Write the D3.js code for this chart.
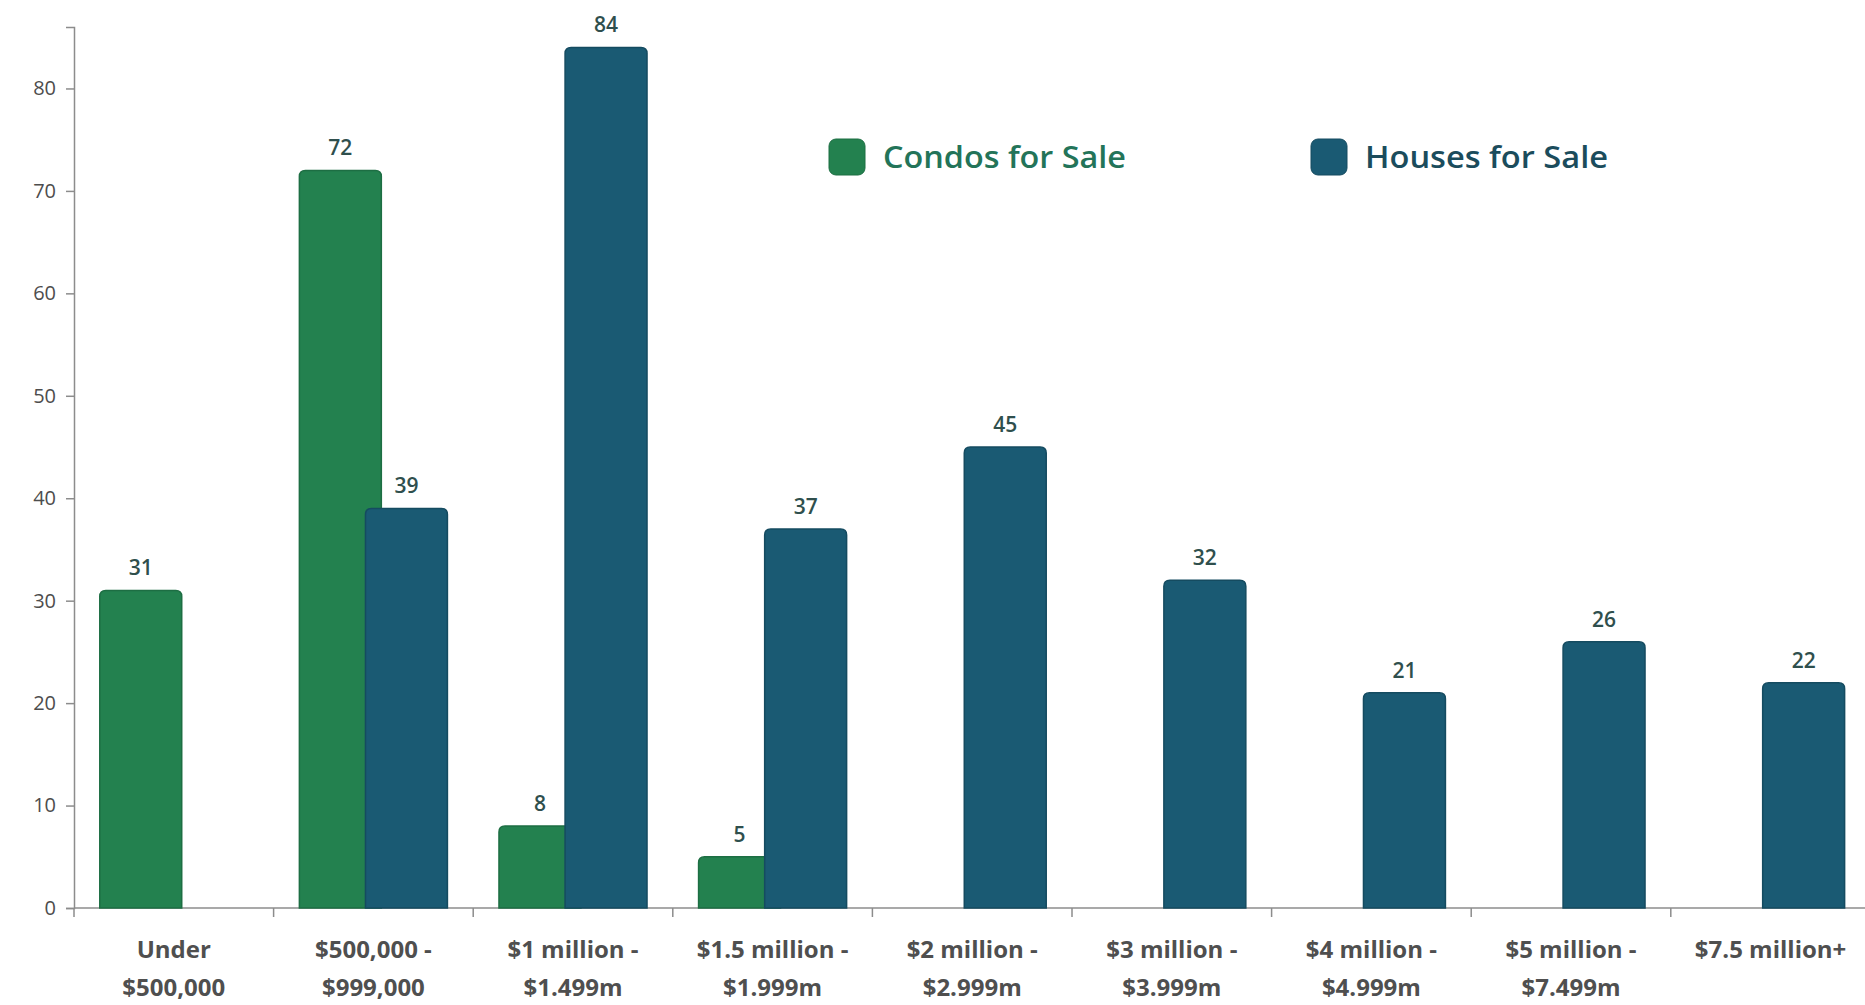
<!DOCTYPE html>
<html>
<head>
<meta charset="utf-8">
<script src="https://cdn.jsdelivr.net/npm/d3@7"></script>
<style>
  body { margin: 0; background: #fff; }
  svg { display: block; font-family: "Open Sans", "DejaVu Sans", sans-serif; }
</style>
</head>
<body>
<div id="chart"></div>
<script>
var
  width = 1865,
  height = 1005;

// data
var categories = [
  ["Under", "$500,000"],
  ["$500,000 -", "$999,000"],
  ["$1 million -", "$1.499m"],
  ["$1.5 million -", "$1.999m"],
  ["$2 million -", "$2.999m"],
  ["$3 million -", "$3.999m"],
  ["$4 million -", "$4.999m"],
  ["$5 million -", "$7.499m"],
  ["$7.5 million+"]
];
var series = ["Condos for Sale", "Houses for Sale"];
var condos = [31, 72, 8, 5, null, null, null, null, null];
var houses = [null, 39, 84, 37, 45, 32, 21, 26, 22];
var yTicks = [0, 10, 20, 30, 40, 50, 60, 70, 80];

var colors = { "Condos for Sale": "#23814f", "Houses for Sale": "#1a5a73" };
var strokes = { "Condos for Sale": "#1d6e43", "Houses for Sale": "#154b60" };
var legendText = { "Condos for Sale": "#237459", "Houses for Sale": "#1b4c5c" };

var svg = d3.select("#chart")
  .append("svg")
  .attr("width", width)
  .attr("height", height);

var margin = { left: 74, bottom: 908, top: 27 };

var x = d3.scaleBand()
  .domain(d3.range(categories.length))
  .range([margin.left, margin.left + 9 * 199.6])
  .padding(0);

var xInner = d3.scaleBand()
  .domain(series)
  .range([0, x.bandwidth()])
  .paddingInner(0)
  .paddingOuter(0.51);

var barW = xInner.bandwidth() * 1.24;

var y = d3.scaleLinear()
  .domain([0, 86])
  .range([margin.bottom, margin.top]);

// y axis
var yAxis = svg.append("g")
  .attr("transform", "translate(" + margin.left + ",0)")
  .call(d3.axisLeft(y).tickValues(yTicks).tickSize(8).tickPadding(10));
yAxis.select(".domain").attr("stroke", "#8c8c8c").attr("stroke-width", 1.5);
yAxis.selectAll(".tick line").attr("stroke", "#8c8c8c").attr("stroke-width", 1.5);
yAxis.selectAll(".tick text")
  .attr("fill", "#4d4d4d")
  .style("font-size", "20px")
  .style("font-family", "'Open Sans', sans-serif");

// x axis line with ticks between categories
var xg = svg.append("g");
xg.append("line")
  .attr("x1", margin.left).attr("x2", width)
  .attr("y1", y(0)).attr("y2", y(0))
  .attr("stroke", "#8c8c8c").attr("stroke-width", 1.5);
xg.selectAll(".sep")
  .data(d3.range(categories.length))
  .enter().append("line")
  .attr("x1", function(d) { return x(d); })
  .attr("x2", function(d) { return x(d); })
  .attr("y1", y(0)).attr("y2", y(0) + 9)
  .attr("stroke", "#8c8c8c").attr("stroke-width", 1.5);

xg.selectAll(".cat")
  .data(categories)
  .enter().append("text")
  .attr("text-anchor", "middle")
  .attr("fill", "#4f4f4f")
  .style("font-size", "24px")
  .style("font-weight", 700)
  .each(function(d, i) {
    var t = d3.select(this);
    d.forEach(function(line, j) {
      t.append("tspan")
        .attr("x", x(i) + x.bandwidth() / 2)
        .attr("y", 958 + j * 38)
        .text(line);
    });
  });

// bar with rounded top
function topRounded(bx, by, bw, bh, r) {
  r = Math.min(r, bh);
  return "M" + bx + "," + (by + bh) +
    "V" + (by + r) +
    "Q" + bx + "," + by + " " + (bx + r) + "," + by +
    "H" + (bx + bw - r) +
    "Q" + (bx + bw) + "," + by + " " + (bx + bw) + "," + (by + r) +
    "V" + (by + bh) + "Z";
}

var seriesData = [
  { name: "Condos for Sale", values: condos },
  { name: "Houses for Sale", values: houses }
];

seriesData.forEach(function(s) {
  var pts = s.values
    .map(function(v, i) { return { i: i, v: v }; })
    .filter(function(d) { return d.v !== null; });

  var cx = function(d) { return x(d.i) + xInner(s.name) + xInner.bandwidth() / 2; };

  svg.append("g").selectAll("path")
    .data(pts)
    .enter().append("path")
    .attr("d", function(d) {
      return topRounded(cx(d) - barW / 2, y(d.v), barW, y(0) - y(d.v), 6);
    })
    .attr("fill", colors[s.name])
    .attr("stroke", strokes[s.name])
    .attr("stroke-width", 1.5);

  svg.append("g").selectAll("text")
    .data(pts)
    .enter().append("text")
    .attr("x", cx)
    .attr("y", function(d) { return y(d.v) - 15; })
    .attr("text-anchor", "middle")
    .attr("fill", "#2f4f4d")
    .style("font-size", "21px")
    .style("font-weight", 600)
    .text(function(d) { return d.v; });
});

// legend
var legendX = [829, 1311];
var legend = svg.append("g").selectAll("g")
  .data(series)
  .enter().append("g")
  .attr("transform", function(d, i) { return "translate(" + legendX[i] + ",139)"; });

legend.append("rect")
  .attr("width", 36).attr("height", 36)
  .attr("rx", 7)
  .attr("fill", function(d) { return colors[d]; })
  .attr("stroke", function(d) { return strokes[d]; });

legend.append("text")
  .attr("x", 54)
  .attr("y", 29)
  .attr("fill", function(d) { return legendText[d]; })
  .style("font-size", "30px")
  .style("font-weight", 600)
  .attr("textLength", 243)
  .attr("lengthAdjust", "spacingAndGlyphs")
  .text(function(d) { return d; });
</script>
</body>
</html>
